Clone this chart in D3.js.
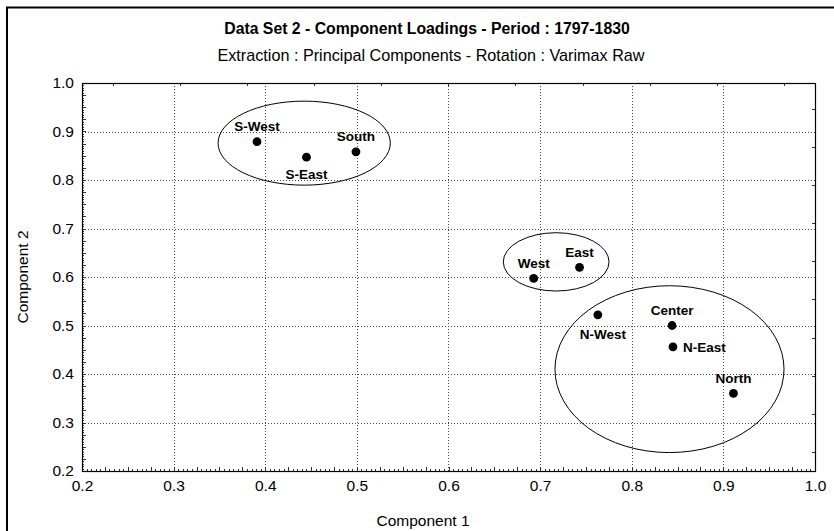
<!DOCTYPE html>
<html>
<head>
<meta charset="utf-8">
<script src="https://cdn.jsdelivr.net/npm/d3@7"></script>
<style>
  html, body { margin: 0; padding: 0; background: #fff; }
  svg { display: block; font-family: "Liberation Sans", Arial, sans-serif; }
</style>
</head>
<body>
<svg id="chart" width="834" height="531"></svg>
<script>
// Component loadings per region
const regions = ["S-West", "S-East", "South", "West", "East", "N-West", "Center", "N-East", "North"];
const comp1   = [0.391, 0.445, 0.499, 0.693, 0.743, 0.763, 0.844, 0.845, 0.911];
const comp2   = [0.879, 0.847, 0.858, 0.597, 0.620, 0.522, 0.500, 0.456, 0.360];
// where each label sits relative to its point
const labelPos = ["above", "below", "above", "above", "above", "below", "above", "right", "above"];

// group ellipses: centre (c1, c2) and radii in loading units
const groupNames = ["South group", "West/East group", "North group"];
const groupC1 = [0.4425, 0.7175, 0.8412];
const groupC2 = [0.8760, 0.6312, 0.4100];
const groupR1 = [0.0940, 0.0577, 0.1250];
const groupR2 = [0.0866, 0.0601, 0.1720];

const xTicks = [0.2, 0.3, 0.4, 0.5, 0.6, 0.7, 0.8, 0.9, 1.0];
const yTicks = [0.2, 0.3, 0.4, 0.5, 0.6, 0.7, 0.8, 0.9, 1.0];

const titleText = "Data Set 2 - Component Loadings - Period : 1797-1830";
const subtitleText = "Extraction : Principal Components - Rotation : Varimax Raw";
const xTitle = "Component 1";
const yTitle = "Component 2";

const svg = d3.select("#chart");
const W = 834, H = 531;
const plot = { left: 82, right: 815, top: 83, bottom: 471 };

// outer frame (runs past the right and bottom edges)
svg.append("rect")
  .attr("x", 7).attr("y", 7.5)
  .attr("width", W + 20).attr("height", H + 20)
  .attr("fill", "none").attr("stroke", "#000").attr("stroke-width", 2);

const x = d3.scaleLinear().domain([0.2, 1.0]).range([plot.left, plot.right]);
const y = d3.scaleLinear().domain([0.2, 1.0]).range([plot.bottom, plot.top]);

// titles
svg.append("text").attr("x", 427).attr("y", 33.5)
  .attr("text-anchor", "middle").attr("font-size", 15.8).attr("font-weight", "bold")
  .text(titleText);
svg.append("text").attr("x", 431).attr("y", 60.5)
  .attr("text-anchor", "middle").attr("font-size", 16.2)
  .text(subtitleText);

// grid
const grid = svg.append("g").attr("stroke", "#444").attr("stroke-width", 1)
  .attr("stroke-dasharray", "1,2").attr("shape-rendering", "crispEdges");
xTicks.slice(1, -1).forEach(v => {
  grid.append("line").attr("x1", Math.round(x(v)) + 0.5).attr("x2", Math.round(x(v)) + 0.5)
    .attr("y1", plot.top).attr("y2", plot.bottom);
});
yTicks.slice(1, -1).forEach(v => {
  grid.append("line").attr("y1", Math.round(y(v)) + 0.5).attr("y2", Math.round(y(v)) + 0.5)
    .attr("x1", plot.left).attr("x2", plot.right);
});

// axes
const xAxis = d3.axisBottom(x).tickValues(xTicks).tickFormat(d3.format(".1f")).tickSize(0).tickPadding(9);
const yAxis = d3.axisLeft(y).tickValues(yTicks).tickFormat(d3.format(".1f")).tickSize(0).tickPadding(8);
const gx = svg.append("g").attr("transform", `translate(0,${plot.bottom})`).call(xAxis);
const gy = svg.append("g").attr("transform", `translate(${plot.left},0)`).call(yAxis);
[gx, gy].forEach(g => {
  g.select(".domain").remove();
  g.selectAll("text").attr("font-size", 15.5).attr("fill", "#000")
    .attr("font-family", "Liberation Sans, Arial, sans-serif");
});

// dense inner minor ticks on the left and bottom axes
const mt = svg.append("g").attr("stroke", "#333").attr("stroke-width", 1).attr("shape-rendering", "crispEdges");
d3.range(0.2, 1.0001, 0.005).forEach(v => {
  mt.append("line").attr("x1", plot.left).attr("x2", plot.left + 2)
    .attr("y1", Math.round(y(v)) + 0.5).attr("y2", Math.round(y(v)) + 0.5);
  mt.append("line").attr("y1", plot.bottom).attr("y2", plot.bottom - 2)
    .attr("x1", Math.round(x(v)) + 0.5).attr("x2", Math.round(x(v)) + 0.5);
});
d3.range(0.2, 1.0001, 0.025).forEach(v => {
  mt.append("line").attr("x1", plot.left).attr("x2", plot.left + 4)
    .attr("y1", Math.round(y(v)) + 0.5).attr("y2", Math.round(y(v)) + 0.5);
  mt.append("line").attr("y1", plot.bottom).attr("y2", plot.bottom - 4)
    .attr("x1", Math.round(x(v)) + 0.5).attr("x2", Math.round(x(v)) + 0.5);
});
// sparse inner ticks on the top and right edges
d3.range(0.2333, 0.97, 0.0733).forEach(v => {
  mt.append("line").attr("y1", plot.top).attr("y2", plot.top + 3)
    .attr("x1", Math.round(x(v)) + 0.5).attr("x2", Math.round(x(v)) + 0.5);
});
d3.range(0.239, 0.97, 0.0787).forEach(v => {
  mt.append("line").attr("x1", plot.right).attr("x2", plot.right - 3)
    .attr("y1", Math.round(y(v)) + 0.5).attr("y2", Math.round(y(v)) + 0.5);
});

// plot frame
svg.append("rect")
  .attr("x", plot.left + 0.5).attr("y", plot.top + 0.5)
  .attr("width", plot.right - plot.left).attr("height", plot.bottom - plot.top)
  .attr("fill", "none").attr("stroke", "#000").attr("stroke-width", 1.2);

// axis titles
svg.append("text").attr("x", 423).attr("y", 526)
  .attr("text-anchor", "middle").attr("font-size", 15.5).text(xTitle);
svg.append("text").attr("transform", `translate(28,${(plot.top + plot.bottom) / 2}) rotate(-90)`)
  .attr("text-anchor", "middle").attr("font-size", 15.5).text(yTitle);

// group ellipses
svg.append("g").selectAll("ellipse").data(groupNames).join("ellipse")
  .attr("cx", (d, i) => x(groupC1[i]))
  .attr("cy", (d, i) => y(groupC2[i]))
  .attr("rx", (d, i) => x(groupC1[i] + groupR1[i]) - x(groupC1[i]))
  .attr("ry", (d, i) => y(groupC2[i]) - y(groupC2[i] + groupR2[i]))
  .attr("fill", "none").attr("stroke", "#000").attr("stroke-width", 1);

// points
svg.append("g").selectAll("circle").data(regions).join("circle")
  .attr("cx", (d, i) => x(comp1[i]))
  .attr("cy", (d, i) => y(comp2[i]))
  .attr("r", 4.4).attr("fill", "#000");

// point labels
svg.append("g").selectAll("text").data(regions).join("text")
  .attr("x", (d, i) => labelPos[i] === "right" ? x(comp1[i]) + 10 : x(comp1[i]) + (d === "N-West" ? 5 : 0))
  .attr("y", (d, i) => {
    const cy = y(comp2[i]);
    if (labelPos[i] === "above") return cy - 10.5;
    if (labelPos[i] === "below") return cy + (d === "N-West" ? 24 : 21.5);
    return cy + 5;
  })
  .attr("text-anchor", (d, i) => labelPos[i] === "right" ? "start" : "middle")
  .attr("font-size", 13.5).attr("font-weight", "bold")
  .text(d => d);
</script>
</body>
</html>
